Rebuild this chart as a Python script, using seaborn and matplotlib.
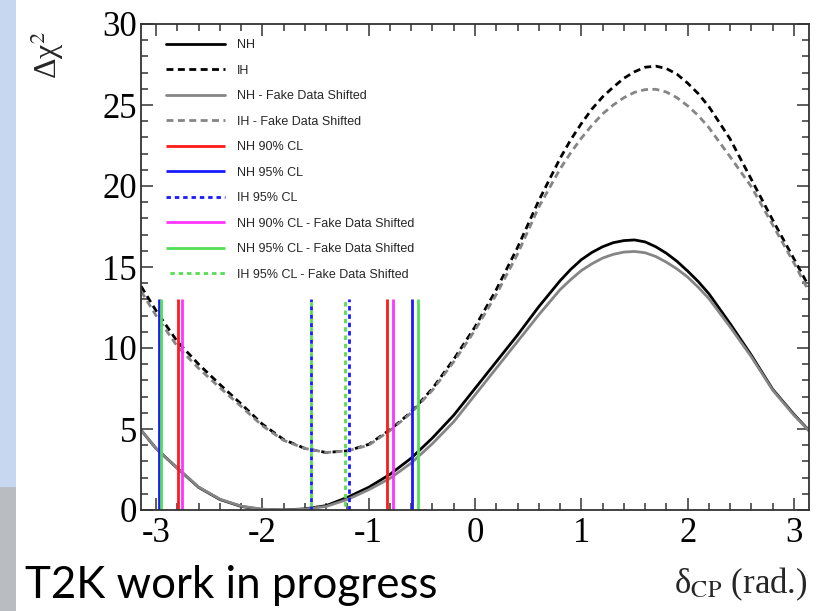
import numpy as np
import pandas as pd
import seaborn as sns
import matplotlib
matplotlib.use("Agg")
import matplotlib.pyplot as plt
from matplotlib.patches import Rectangle
from matplotlib.ticker import MultipleLocator, FixedLocator, FixedFormatter

# ---------------- data ----------------
delta = [-3.14, -3.0, -2.8, -2.6, -2.4, -2.2, -2.0, -1.8, -1.6, -1.4, -1.2, -1.0,
         -0.8, -0.6, -0.4, -0.2, 0.0, 0.2, 0.4, 0.6, 0.8, 0.9, 1.0, 1.1, 1.2, 1.3, 1.4, 1.5, 1.6,
         1.7, 1.8, 1.9, 2.0, 2.1, 2.2, 2.4, 2.6, 2.8, 3.0, 3.14]

nh = [4.92, 3.80, 2.58, 1.40, 0.65, 0.22, 0.03, 0.00, 0.07, 0.27, 0.78, 1.40,
      2.20, 3.20, 4.45, 5.85, 7.50, 9.15, 10.80, 12.55, 14.15, 14.85, 15.45, 15.90, 16.25, 16.50, 16.63, 16.67, 16.55,
      16.25, 15.85, 15.35, 14.75, 14.10, 13.35, 11.50, 9.55, 7.45, 5.90, 4.92]

ih = [13.80, 12.30, 10.40, 9.00, 7.75, 6.55, 5.30, 4.35, 3.80, 3.55, 3.65, 4.05,
      4.95, 6.05, 7.50, 9.30, 11.30, 13.60, 16.20, 19.10, 21.70, 22.85, 23.85, 24.75, 25.50, 26.10, 26.65, 27.05, 27.33,
      27.40, 27.25, 26.90, 26.35, 25.70, 24.90, 22.90, 20.40, 17.90, 15.50, 13.80]

nh_fake = [4.92, 3.80, 2.58, 1.42, 0.67, 0.24, 0.05, 0.00, 0.05, 0.22, 0.65, 1.25,
           1.95, 2.90, 4.10, 5.45, 7.10, 8.75, 10.40, 12.05, 13.60, 14.22, 14.78, 15.20, 15.55, 15.78, 15.92, 15.96, 15.88,
           15.65, 15.30, 14.88, 14.38, 13.75, 13.05, 11.30, 9.45, 7.40, 5.85, 4.90]

ih_fake = [13.50, 12.00, 10.10, 8.75, 7.55, 6.40, 5.20, 4.30, 3.80, 3.55, 3.65, 4.00,
           4.90, 6.00, 7.40, 9.15, 11.10, 13.30, 15.80, 18.70, 21.05, 22.05, 22.95, 23.75, 24.45, 25.00, 25.45, 25.78, 25.95,
           25.97, 25.80, 25.45, 24.95, 24.35, 23.60, 21.80, 19.95, 17.60, 15.25, 13.50]

# confidence-interval boundaries (vertical lines)
nh90_x = [-2.797, -0.825]
nh95_x = [-2.972, -0.596]
ih95_x = [-1.543, -1.182]
nh90_fake_x = [-2.759, -0.774]
nh95_fake_x = [-2.951, -0.539]
ih95_fake_x = [-1.543, -1.223]
cl_line_top = 13.0

x_ticks = [-3, -2, -1, 0, 1, 2, 3]
x_tick_labels = ["-3", "-2", "-1", "0", "1", "2", "3"]
y_ticks = [0, 5, 10, 15, 20, 25, 30]
y_tick_labels = ["0", "5", "10", "15", "20", "25", "30"]

# ---------------- style ----------------
sns.set_theme(style="white")
plt.rcParams["font.family"] = ["Liberation Serif", "DejaVu Serif"]
plt.rcParams["mathtext.fontset"] = "stix"
plt.rcParams["axes.unicode_minus"] = False

fig = plt.figure(figsize=(8.38, 6.11), dpi=100)
fig.patch.set_facecolor("white")
# slide background strip on the left
fig.patches.append(Rectangle((0, 0.203), 16 / 838, 0.797, transform=fig.transFigure,
                             facecolor="#c6d7ef", edgecolor="none", zorder=-5))
fig.patches.append(Rectangle((0, 0), 16 / 838, 0.203, transform=fig.transFigure,
                             facecolor="#b9bdc2", edgecolor="none", zorder=-5))

ax = fig.add_axes([141 / 838, 101 / 611, 668 / 838, 486 / 611])
ax.set_facecolor("white")

dash_ls = (0, (2.5, 1.6))
sns.lineplot(x=delta, y=nh, color="black", lw=2.0, ax=ax, label="NH")
sns.lineplot(x=delta, y=ih, color="black", lw=2.0, linestyle=dash_ls, ax=ax, label="IH")
sns.lineplot(x=delta, y=nh_fake, color="#858585", lw=2.0, ax=ax, label="NH - Fake Data Shifted")
sns.lineplot(x=delta, y=ih_fake, color="#858585", lw=2.0, linestyle=dash_ls, ax=ax,
             label="IH - Fake Data Shifted")

vdash = (0, (1.6, 1.4))
vdash_off = (1.6, (1.6, 1.4))
ax.vlines(nh90_x, 0, cl_line_top, colors="#ff1a1a", lw=2.0, label="NH 90% CL")
ax.vlines(nh95_x, 0, cl_line_top, colors="#1a1aff", lw=2.0, label="NH 95% CL")
ax.vlines(ih95_x, 0, cl_line_top, colors="#1a1aff", lw=2.0, linestyles=[vdash], label="IH 95% CL")
ax.vlines(nh90_fake_x, 0, cl_line_top, colors="#ff33ff", lw=2.0, label="NH 90% CL - Fake Data Shifted")
ax.vlines(nh95_fake_x, 0, cl_line_top, colors="#55dd55", lw=2.0, label="NH 95% CL - Fake Data Shifted")
ax.vlines(ih95_fake_x, 0, cl_line_top, colors="#55dd55", lw=2.0, linestyles=[vdash_off],
          label="IH 95% CL - Fake Data Shifted")

ax.set_xlim(-np.pi, np.pi)
ax.set_ylim(0, 30)
ax.xaxis.set_major_locator(FixedLocator(x_ticks))
ax.xaxis.set_major_formatter(FixedFormatter(x_tick_labels))
ax.xaxis.set_minor_locator(MultipleLocator(0.2))
ax.yaxis.set_major_locator(FixedLocator(y_ticks))
ax.yaxis.set_major_formatter(FixedFormatter(y_tick_labels))
ax.yaxis.set_minor_locator(MultipleLocator(1))
ax.tick_params(which="both", direction="in", top=True, right=True, bottom=True, left=True,
               color="#333333", labelsize=25, labelcolor="black")
ax.tick_params(which="major", length=8.6, width=1.1)
ax.tick_params(which="minor", length=5.0, width=1.1)
ax.tick_params(axis="x", which="major", pad=5)
ax.tick_params(axis="y", which="major", pad=3)
for s in ax.spines.values():
    s.set_linewidth(1.3)
    s.set_color("#333333")

ax.set_ylabel("Δχ$^2$", fontsize=23, loc="top")
ax.yaxis.set_label_coords(-0.112, 0.985)
ax.set_xlabel("δ$_{\\rm CP}$ (rad.)", fontsize=25, loc="right")
ax.xaxis.set_label_coords(0.9985, -0.115)

leg = ax.legend(loc="upper left", bbox_to_anchor=(0.0374, 0.969), frameon=False,
                borderaxespad=0, borderpad=0, handlelength=4.7, handletextpad=1.0,
                labelspacing=1.08, prop={"family": "Liberation Sans", "size": 9})

fig.text(25 / 838, 13 / 611, "T2K work in progress", fontsize=31.6, family="Lato",
         ha="left", va="baseline", color="black")

fig.savefig("out.png", dpi=100)
